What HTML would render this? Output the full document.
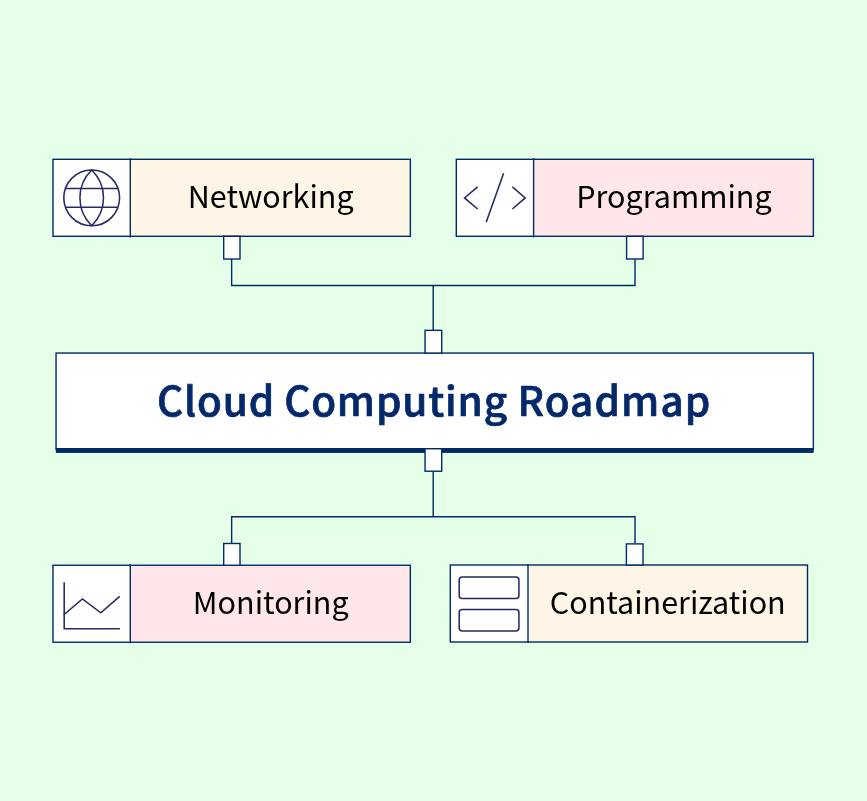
<!DOCTYPE html>
<html lang="en">
<head>
<meta charset="utf-8">
<title>Cloud Computing Roadmap</title>
<style>
  html, body { margin: 0; padding: 0; background: #e5ffe9; }
  body { width: 867px; height: 801px; overflow: hidden; }
  svg { display: block; will-change: transform; }
  .lbl { font-family: "Noto Sans CJK SC", "Noto Sans CJK JP", "Liberation Sans", sans-serif; font-size: 30.5px; fill: #000000; text-anchor: middle; }
  .ttl { font-family: "Noto Sans CJK SC", "Noto Sans CJK JP", "Liberation Sans", sans-serif; font-size: 40.5px; font-weight: 500; fill: #04296a; stroke: #04296a; stroke-width: 0.7px; letter-spacing: 0.82px; text-anchor: start; }
  .bx { stroke: #002a66; stroke-width: 1.4; }
  .ln { stroke: #002a66; stroke-width: 1.4; fill: none; }
  .ic { stroke: #262a63; stroke-width: 1.55; fill: none; stroke-linecap: butt; stroke-linejoin: miter; }
</style>
</head>
<body>
<svg width="867" height="801" viewBox="0 0 867 801">

  <!-- connectors -->
  <path class="ln" d="M231.65 259 V285.5 H635 V259 M433.2 285.5 V330.3"/>
  <path class="ln" d="M231.65 543.5 V516.7 H635 V543.5 M433.2 516.7 V471.2"/>

  <!-- Networking -->
  <rect x="53" y="159.3" width="77.3" height="77" fill="#ffffff"/>
  <rect x="130.3" y="159.3" width="280.05" height="77" fill="#fff5e6"/>
  <rect class="bx" x="53" y="159.3" width="357.35" height="77" fill="none"/>
  <path class="ln" d="M130.3 158.2 V237.4"/>
  <g class="ic">
    <circle cx="91.7" cy="197.85" r="27.9"/>
    <path d="M91.7 169.95 A38.9 38.9 0 0 0 91.7 225.75 A38.9 38.9 0 0 0 91.7 169.95 Z"/>
    <path d="M65.4 188.5 H118 M65.4 207.2 H118"/>
  </g>
  <text class="lbl" x="270.7" y="207.8">Networking</text>

  <!-- Programming -->
  <rect x="456.3" y="159.3" width="77.3" height="77" fill="#ffffff"/>
  <rect x="533.6" y="159.3" width="279.75" height="77" fill="#ffe6e9"/>
  <rect class="bx" x="456.3" y="159.3" width="357.05" height="77" fill="none"/>
  <path class="ln" d="M533.6 158.2 V237.4"/>
  <g class="ic">
    <path d="M477.6 186.8 L464.5 197.9 L477.6 209"/>
    <path d="M503.6 173.2 L486.2 222.3"/>
    <path d="M512.4 186.8 L525.2 197.9 L512.4 209"/>
  </g>
  <text class="lbl" x="674" y="207.8">Programming</text>

  <!-- Monitoring -->
  <rect x="53" y="565.25" width="77.3" height="77" fill="#ffffff"/>
  <rect x="130.3" y="565.25" width="280.05" height="77" fill="#ffe6e9"/>
  <rect class="bx" x="53" y="565.25" width="357.35" height="77" fill="none"/>
  <path class="ln" d="M130.3 564.15 V643.35"/>
  <g class="ic">
    <path d="M64.2 582.2 V628.7 H119.9"/>
    <path d="M63.6 615 L82.4 599 L100.8 612.8 L119.7 596.3"/>
  </g>
  <text class="lbl" x="270.75" y="613.9">Monitoring</text>

  <!-- Containerization -->
  <rect x="450.3" y="565" width="77.7" height="77" fill="#ffffff"/>
  <rect x="528" y="565" width="279.5" height="77" fill="#fff5e6"/>
  <rect class="bx" x="450.3" y="565" width="357.2" height="77" fill="none"/>
  <path class="ln" d="M528 563.9 V643.1"/>
  <g class="ic">
    <rect x="459.2" y="576.9" width="59.7" height="21.5" rx="3" ry="3"/>
    <rect x="459.2" y="609.4" width="59.7" height="21.5" rx="3" ry="3"/>
  </g>
  <text class="lbl" x="667.75" y="613.9">Containerization</text>

  <!-- Main title box -->
  <rect class="bx" x="56.05" y="353.05" width="757.3" height="96" fill="#ffffff"/>
  <rect x="55.8" y="448" width="757.9" height="4.9" fill="#002a66"/>
  <text class="ttl" y="415.75"><tspan x="157.05" style="letter-spacing:0.87px">Cloud</tspan> <tspan x="284.15" style="letter-spacing:0.83px">Computing</tspan> <tspan x="517.47" style="letter-spacing:1.1px">Roadmap</tspan></text>

  <!-- small connector boxes -->
  <rect class="bx" x="223.7" y="236.3" width="16.3" height="22.7" fill="#ffffff"/>
  <rect class="bx" x="626.6" y="236.3" width="16.5" height="22.7" fill="#ffffff"/>
  <rect class="bx" x="425.05" y="330.35" width="16.65" height="22.7" fill="#ffffff"/>
  <rect class="bx" x="425.05" y="448.75" width="16.65" height="22.45" fill="#ffffff"/>
  <rect class="bx" x="223.7" y="543.5" width="16.3" height="21.75" fill="#ffffff"/>
  <rect class="bx" x="626.4" y="543.9" width="16.6" height="21.1" fill="#ffffff"/>
</svg>
</body>
</html>
